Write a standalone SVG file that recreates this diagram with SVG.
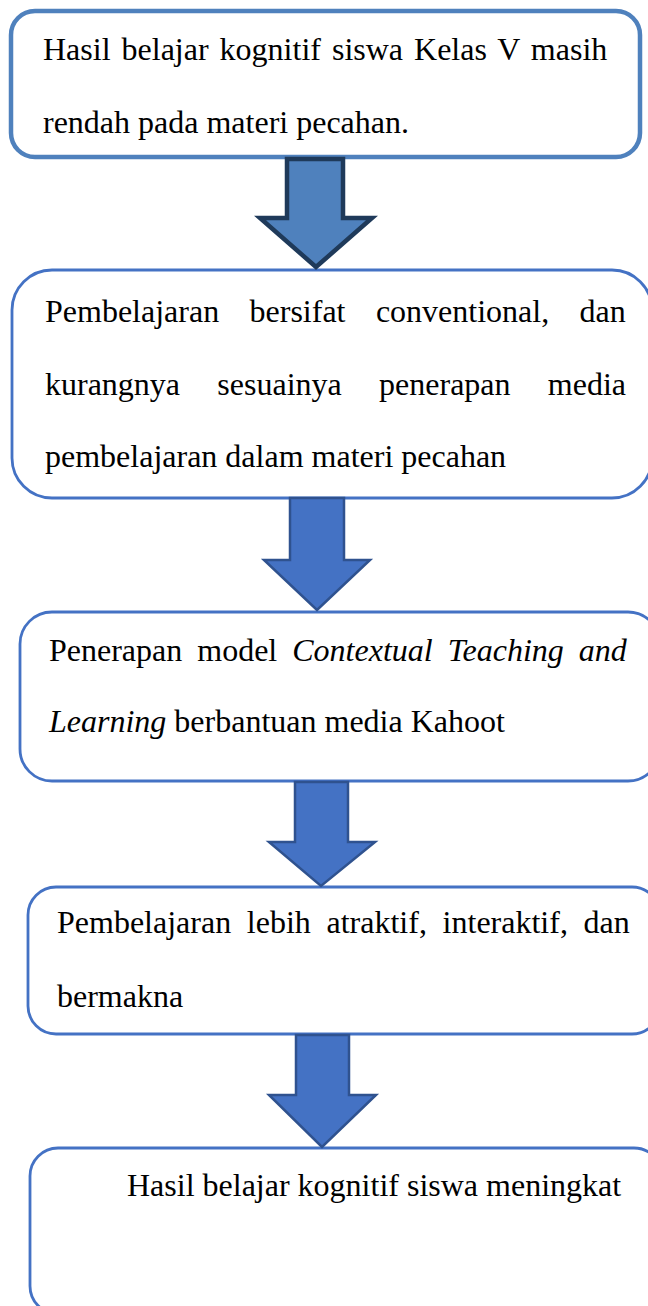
<svg xmlns="http://www.w3.org/2000/svg" width="648" height="1306" viewBox="0 0 648 1306">
<style>
.box{fill:#fff;stroke:#4472C4;stroke-width:2.8}
.box1{fill:#fff;stroke:#4F81BD;stroke-width:4.5}
.t{font-family:"Liberation Serif","Times New Roman",serif;font-size:32px;fill:#000}
.i{font-style:italic}
.arr{fill:#4472C4;stroke:#2F528F;stroke-width:2.5;stroke-linejoin:miter}
.arr1{fill:#4F81BD;stroke:#1F3A5A;stroke-width:4.5;stroke-linejoin:miter}
</style>
<rect width="648" height="1306" fill="#fff"/>
<g id="node1">
<rect class="box1" x="11" y="11" width="629" height="146" rx="24"/>
<text class="t" x="43" y="60" word-spacing="3">Hasil belajar kognitif siswa Kelas V masih</text>
<text class="t" x="43" y="133">rendah pada materi pecahan.</text>
</g>
<g id="node2">
<rect class="box" x="12" y="270" width="640" height="228" rx="40"/>
<text class="t" x="45" y="322" word-spacing="22.4">Pembelajaran bersifat conventional, dan</text>
<text class="t" x="45" y="395" word-spacing="29.3">kurangnya sesuainya penerapan media</text>
<text class="t" x="45" y="467">pembelajaran dalam materi pecahan</text>
</g>
<g id="node3">
<rect class="box" x="20" y="612" width="640" height="169" rx="32"/>
<text class="t" x="49" y="661" word-spacing="7">Penerapan model <tspan class="i">Contextual Teaching and</tspan></text>
<text class="t" x="49" y="732"><tspan class="i">Learning</tspan> berbantuan media Kahoot</text>
</g>
<g id="node4">
<rect class="box" x="28" y="887" width="632" height="147" rx="28"/>
<text class="t" x="57" y="933" word-spacing="7.7">Pembelajaran lebih atraktif, interaktif, dan</text>
<text class="t" x="57" y="1007">bermakna</text>
</g>
<g id="node5">
<rect class="box" x="30" y="1148" width="632" height="166" rx="28"/>
<text class="t" x="127" y="1196">Hasil belajar kognitif siswa meningkat</text>
</g>
<g id="connectors">
<path class="arr1" d="M287 159 H343 V218 H372 L316 267 L260 218 H287 Z"/>
<path class="arr" d="M290 498 H344 V560 H370 L317 610 L264 560 H290 Z"/>
<path class="arr" d="M295 782 H348 V842 H375 L321 886 L269 842 H295 Z"/>
<path class="arr" d="M296 1035 H349 V1095 H376 L322 1147 L269 1095 H296 Z"/>
</g>
</svg>
